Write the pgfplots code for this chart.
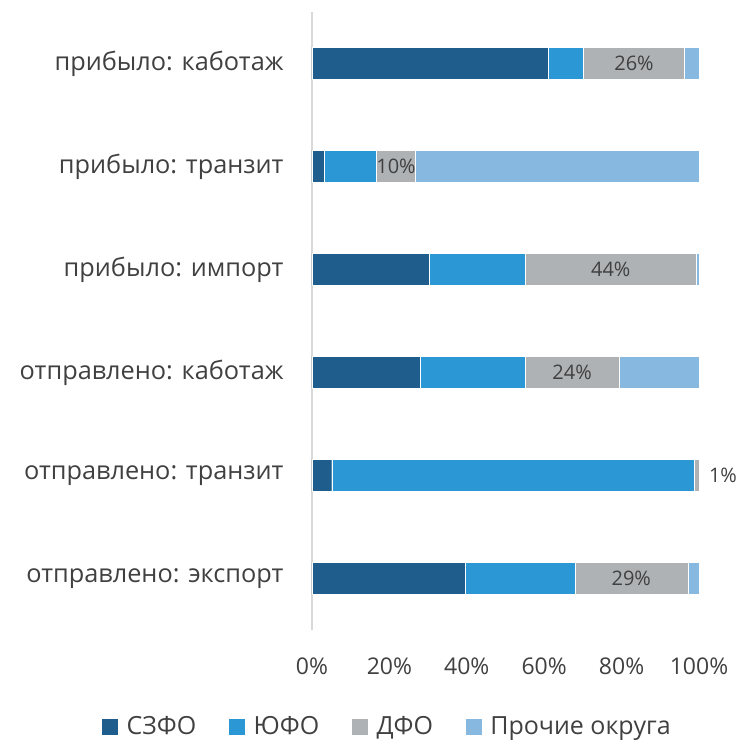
\documentclass[border=0pt]{standalone}
\usepackage{pgfplots}
\pgfplotsset{compat=1.18}
\usepackage{fontspec}
\setmainfont{Open Sans}
\definecolor{cszfo}{HTML}{1F5E8C}
\definecolor{cufo}{HTML}{2B98D5}
\definecolor{cdfo}{HTML}{AFB2B5}
\definecolor{cpro}{HTML}{86B8E0}
\definecolor{txt}{HTML}{404040}
\begin{document}
\begin{tikzpicture}
\useasboundingbox (-312pt,-111pt) rectangle (426pt,630pt);
\pgfplotsset{
  base/.style={
    scale only axis, width=387pt, height=618pt,
    xmin=0, xmax=100, ymin=-0.5, ymax=5.5,
    clip=false,
    /pgf/number format/assume math mode=true,
    font=\fontsize{21}{25}\selectfont\color{txt},
  }
}
\begin{axis}[base,
  xbar stacked, bar width=32pt,
  axis lines*=left,
  x axis line style={draw=none},
  y axis line style={draw=black!15, line width=1.5pt, -},
  major tick length=0pt,
  xtick={0,20,40,60,80,100},
  xticklabels={0\%,20\%,40\%,60\%,80\%,100\%},
  xticklabel style={yshift=-24pt, font=\fontsize{23}{27}\selectfont\color{txt}},
  ytick={0,1,2,3,4,5},
  yticklabels={отправлено: экспорт, отправлено: транзит, отправлено: каботаж, прибыло: импорт, прибыло: транзит, прибыло: каботаж},
  yticklabel style={anchor=east, xshift=-25pt, font=\fontsize{25.3}{29}\selectfont\color{txt}},
  legend columns=4,
  legend style={at={(0.194,-0.133)}, anchor=north, draw=none, fill=none,
    font=\fontsize{25}{29}\selectfont\color{txt},
    /tikz/every odd column/.append style={column sep=6pt},
    /tikz/every even column/.append style={column sep=30pt}},
  legend image code/.code={\fill[#1] (0pt,-8.5pt) rectangle (17pt,8.5pt);},
]
\addplot[fill=cszfo, draw=white, line width=0.3pt] coordinates {(39.6,0) (5.1,1) (27.9,2) (30.2,3) (3.2,4) (61.0,5)};
\addlegendentry{СЗФО}
\addplot[fill=cufo, draw=white, line width=0.3pt] coordinates {(28.3,0) (93.6,1) (27.3,2) (24.8,3) (13.3,4) (9.1,5)};
\addlegendentry{ЮФО}
\addplot[fill=cdfo, draw=white, line width=0.3pt] coordinates {(29.2,0) (1.3,1) (24.1,2) (44.3,3) (10.2,4) (26.1,5)};
\addlegendentry{ДФО}
\addplot[fill=cpro, draw=white, line width=0.3pt] coordinates {(2.9,0) (0.0,1) (20.7,2) (0.7,3) (73.3,4) (3.8,5)};
\addlegendentry{Прочие округа}
\end{axis}
\begin{axis}[base, axis lines=none, xtick=\empty, ytick=\empty]
\addplot[draw=none, nodes near coords, point meta=explicit symbolic,
  every node near coord/.append style={anchor=center, font=\fontsize{20}{24}\selectfont\color{txt}}]
  table[meta=lab] {
x y lab
82.5 0 29\%
106.2 1 1\%
67.2 2 24\%
77.2 3 44\%
21.7 4 10\%
83.2 5 26\%
};
\end{axis}
\end{tikzpicture}
\end{document}
